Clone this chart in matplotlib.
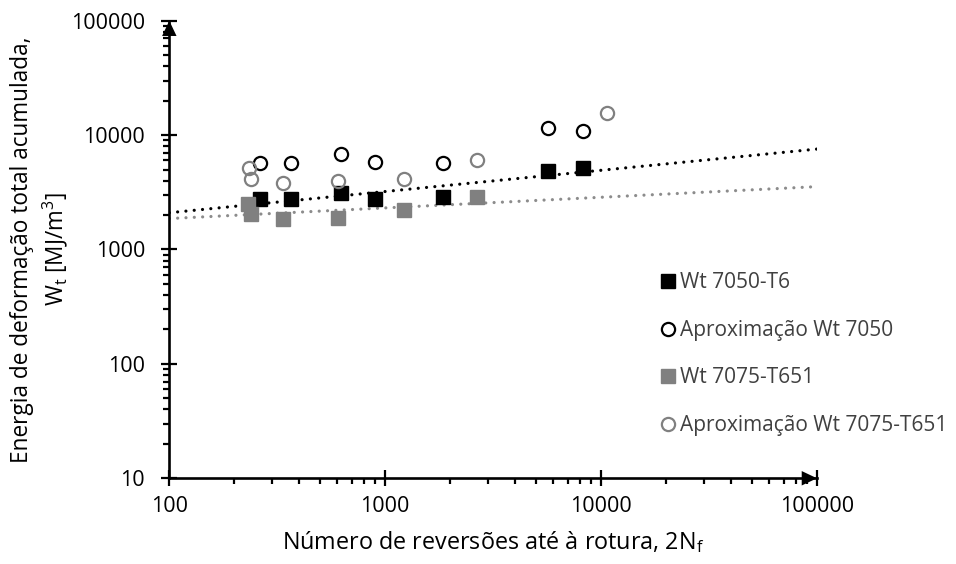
import matplotlib
matplotlib.use('Agg')
import matplotlib.pyplot as plt
import matplotlib.ticker as ticker
from matplotlib.lines import Line2D
import numpy as np

plt.rcParams['font.family'] = ['Open Sans', 'DejaVu Sans']
plt.rcParams['mathtext.fontset'] = 'custom'
plt.rcParams['mathtext.rm'] = 'Open Sans'
plt.rcParams['mathtext.it'] = 'Open Sans:italic'

# Wt 7050-T6 (measured)
n_7050 = [264, 366, 625, 899, 1845, 5651, 8240]
wt_7050 = [2761, 2761, 3137, 2761, 2859, 4827, 5152]
# approximation Wt 7050
wt_7050_aprox = [5738, 5738, 6836, 5821, 5668, 11540, 10790]

# Wt 7075-T651 (measured)
n_7075 = [231, 239, 335, 603, 1220, 2655]
wt_7075 = [2498, 2031, 1848, 1874, 2215, 2859]
# approximation Wt 7075-T651
n_7075_aprox = [233, 239, 335, 603, 1220, 2655, 10650]
wt_7075_aprox = [5126, 4110, 3791, 3994, 4110, 6058, 15510]

black = '#000000'
grey = '#808080'

fig = plt.figure(figsize=(9.56, 5.64), dpi=100)
ax = fig.add_axes([0.1771, 0.152, 0.6775, 0.8113])
ax.set_xscale('log')
ax.set_yscale('log')
ax.set_xlim(100, 100000)
ax.set_ylim(10, 100000)

# power trendlines (least squares in log-log, like the spreadsheet)
xt = np.array([100, 100000])
for xs, ys, c in [(n_7050, wt_7050, black), (n_7075, wt_7075, '#8c8c8c')]:
    b, a = np.polyfit(np.log10(xs), np.log10(ys), 1)
    ax.plot(xt, 10 ** (a + b * np.log10(xt)), color=c, lw=2.3,
            linestyle=(0, (0.01, 2.6)), dash_capstyle='round', zorder=2)

ax.plot(n_7050, wt_7050, 's', color=black, ms=10.5, zorder=3)
ax.plot(n_7050, wt_7050_aprox, 'o', mfc='none', mec=black, mew=1.6, ms=9.5, zorder=3)
ax.plot(n_7075, wt_7075, 's', color=grey, ms=10.5, zorder=3)
ax.plot(n_7075_aprox, wt_7075_aprox, 'o', mfc='none', mec=grey, mew=1.6, ms=9.5, zorder=3)

for s in ['top', 'right']:
    ax.spines[s].set_visible(False)
for s in ['left', 'bottom']:
    ax.spines[s].set_linewidth(1.9)

ax.xaxis.set_major_locator(ticker.LogLocator(base=10, numticks=10))
ax.yaxis.set_major_locator(ticker.LogLocator(base=10, numticks=10))
ax.xaxis.set_minor_locator(ticker.LogLocator(base=10, subs=np.arange(2, 10), numticks=10))
ax.yaxis.set_minor_locator(ticker.LogLocator(base=10, subs=np.arange(2, 10), numticks=10))
ax.xaxis.set_major_formatter(ticker.FuncFormatter(lambda v, p: '%d' % v))
ax.yaxis.set_major_formatter(ticker.FuncFormatter(lambda v, p: '%d' % v))
ax.xaxis.set_minor_formatter(ticker.NullFormatter())
ax.yaxis.set_minor_formatter(ticker.NullFormatter())
ax.tick_params(which='major', direction='inout', length=11, width=1.6,
               labelsize=15.5, colors='black')
ax.tick_params(which='minor', direction='out', length=4.5, width=1.6)
ax.tick_params(axis='x', which='major', pad=7)
ax.tick_params(axis='y', which='major', pad=12)

# axis arrows
arrow = dict(arrowstyle='-|>,head_length=0.55,head_width=0.26', color='black',
             lw=0, shrinkA=0, shrinkB=0, mutation_scale=20)
ax.annotate('', xy=(0, 1), xytext=(0, 0.95), xycoords='axes fraction',
            arrowprops=arrow, annotation_clip=False)
ax.annotate('', xy=(1, 0), xytext=(0.95, 0), xycoords='axes fraction',
            arrowprops=arrow, annotation_clip=False)

ax.set_xlabel('Número de reversões até à rotura, 2N$_\\mathrm{f}$', fontsize=16.8, labelpad=9)
ax.set_ylabel('Energia de deformação total acumulada,\nW$_\\mathrm{t}$ [MJ/m$^3$]',
              fontsize=16.3, linespacing=1.3)
ax.yaxis.set_label_coords(-0.153, 0.5)

handles = [
    Line2D([], [], marker='s', ls='none', color=black, ms=10),
    Line2D([], [], marker='o', ls='none', mfc='none', mec=black, mew=1.6, ms=9.5),
    Line2D([], [], marker='s', ls='none', color=grey, ms=10),
    Line2D([], [], marker='o', ls='none', mfc='none', mec=grey, mew=1.6, ms=9.5),
]
labels = ['Wt 7050-T6', 'Aproximação Wt 7050', 'Wt 7075-T651', 'Aproximação Wt 7075-T651']
leg = fig.legend(handles, labels, loc='upper left', bbox_to_anchor=(649 / 956, 1 - 262 / 564),
                 frameon=False, fontsize=15, handlelength=0.8, handletextpad=0.2,
                 labelspacing=1.27, borderpad=0)
for t in leg.get_texts():
    t.set_color('#404040')

fig.savefig('out.png', dpi=100)
